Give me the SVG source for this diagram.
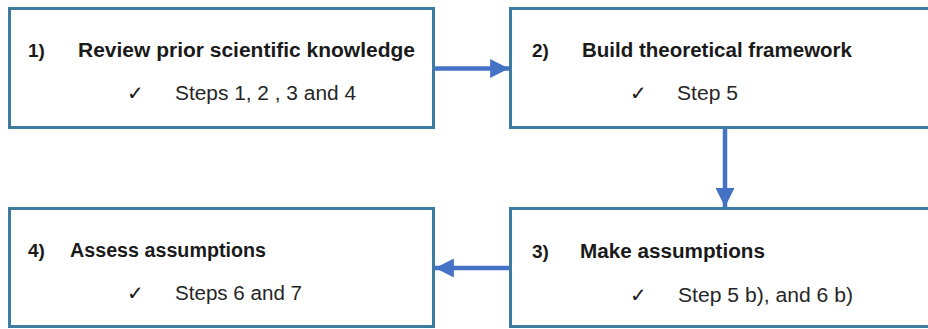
<svg xmlns="http://www.w3.org/2000/svg" width="928" height="329" viewBox="0 0 928 329">
  <style>
    .box { fill: #ffffff; stroke: #3d7ba1; stroke-width: 3; }
    .num { font-family: "Liberation Sans", Arial, sans-serif; font-weight: bold; font-size: 19px; fill: #1a1a1a; }
    .head { font-family: "Liberation Sans", Arial, sans-serif; font-weight: bold; font-size: 19.5px; fill: #1a1a1a; }
    .item { font-family: "Liberation Sans", Arial, sans-serif; font-size: 19.5px; fill: #262626; }
    .tick { font-family: "DejaVu Sans", sans-serif; font-size: 20px; fill: #1a1a1a; }
    .conn { stroke: #4472c4; stroke-width: 4.5; fill: none; }
  </style>
  <defs>
    <marker id="arrow" viewBox="0 0 10 10" refX="10" refY="5" markerWidth="4.2" markerHeight="4.2" markerUnits="strokeWidth" orient="auto">
      <path d="M0,0 L10,5 L0,10 z" fill="#4472c4"/>
    </marker>
  </defs>
  <rect width="928" height="329" fill="#ffffff"/>

  <g id="node-review">
    <rect class="box" x="9.5" y="8.5" width="424" height="119"/>
    <text class="num" x="28" y="57">1)</text>
    <text class="head" x="78" y="57" textLength="337" lengthAdjust="spacingAndGlyphs">Review prior scientific knowledge</text>
    <text class="tick" x="127" y="100">✓</text>
    <text class="item" x="175" y="100" textLength="181" lengthAdjust="spacingAndGlyphs">Steps 1, 2 , 3 and 4</text>
  </g>

  <g id="node-framework">
    <rect class="box" x="510.5" y="8.5" width="430" height="119"/>
    <text class="num" x="532" y="57">2)</text>
    <text class="head" x="582" y="57" textLength="270" lengthAdjust="spacingAndGlyphs">Build theoretical framework</text>
    <text class="tick" x="630" y="100">✓</text>
    <text class="item" x="677" y="100" textLength="61" lengthAdjust="spacingAndGlyphs">Step 5</text>
  </g>

  <g id="node-make">
    <rect class="box" x="510.5" y="208.5" width="430" height="118"/>
    <text class="num" x="532" y="258">3)</text>
    <text class="head" x="580" y="258" textLength="185" lengthAdjust="spacingAndGlyphs">Make assumptions</text>
    <text class="tick" x="630" y="302">✓</text>
    <text class="item" x="678" y="302" textLength="175" lengthAdjust="spacingAndGlyphs">Step 5 b), and 6 b)</text>
  </g>

  <g id="node-assess">
    <rect class="box" x="9.5" y="208.5" width="424" height="118"/>
    <text class="num" x="28" y="257">4)</text>
    <text class="head" x="70" y="257" textLength="196" lengthAdjust="spacingAndGlyphs">Assess assumptions</text>
    <text class="tick" x="127" y="300">✓</text>
    <text class="item" x="175" y="300" textLength="127" lengthAdjust="spacingAndGlyphs">Steps 6 and 7</text>
  </g>

  <g id="connectors">
    <line class="conn" x1="435" y1="68.5" x2="509" y2="68.5" marker-end="url(#arrow)"/>
    <line class="conn" x1="725" y1="129" x2="725" y2="207" marker-end="url(#arrow)"/>
    <line class="conn" x1="509" y1="268" x2="435" y2="268" marker-end="url(#arrow)"/>
  </g>
</svg>
